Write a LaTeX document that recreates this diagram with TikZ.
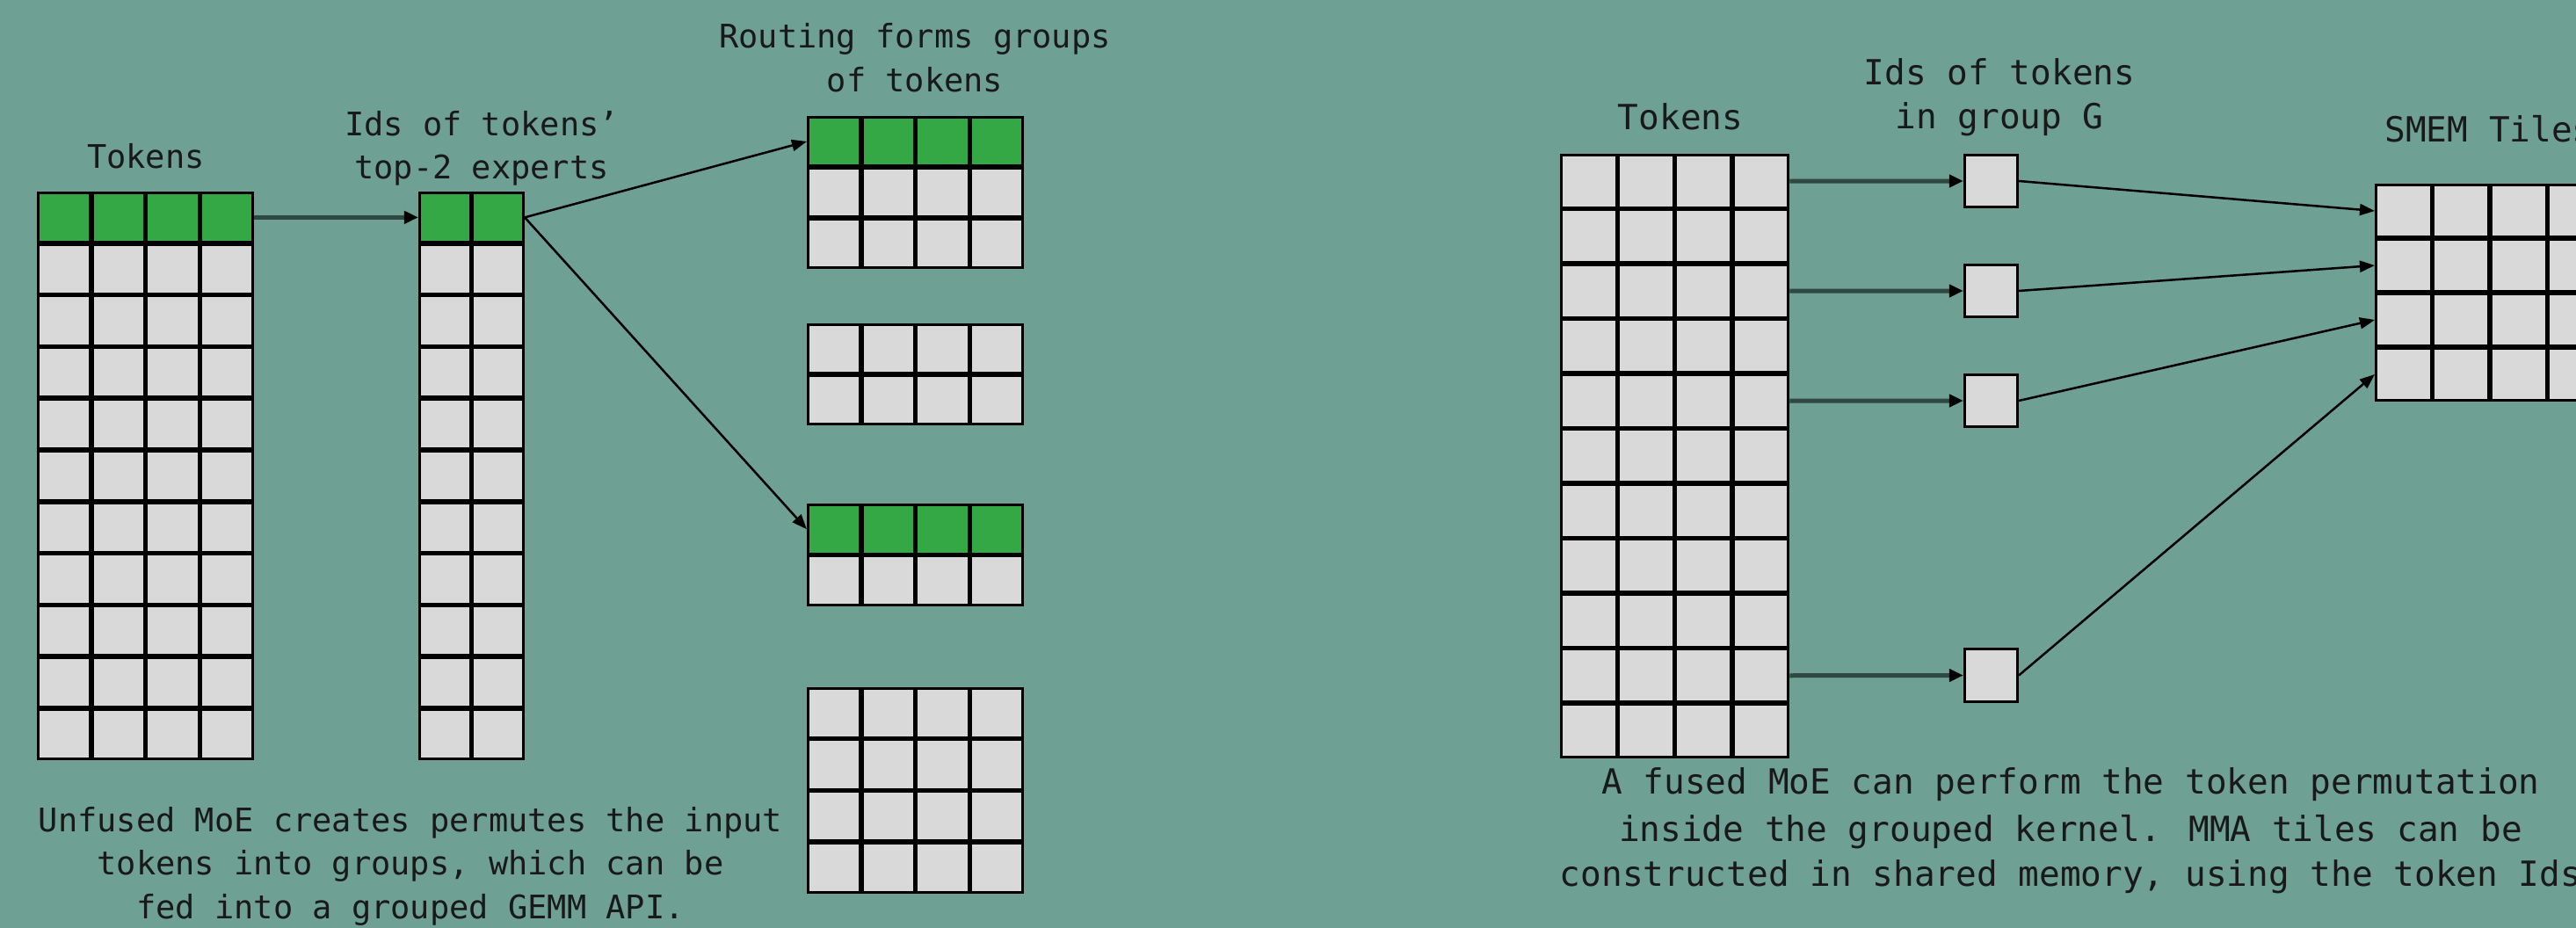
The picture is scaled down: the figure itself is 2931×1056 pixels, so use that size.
\documentclass[tikz,border=0pt]{standalone}
\usepackage{fontspec}
\newfontfamily\monoL{DejaVu Sans Mono}
\usetikzlibrary{arrows.meta}
\definecolor{bgc}{RGB}{111,160,148}
\definecolor{cgreen}{RGB}{51,168,69}
\definecolor{cgray}{RGB}{217,217,217}
\definecolor{ink}{RGB}{25,25,25}
\definecolor{harrowc}{RGB}{48,72,66}
% #1 name, #2 x0, #3 y0, #4 pitch w, #5 pitch h, #6 cols, #7 rows, #8 green rows
\newcommand\mkgrid[8]{%
  \foreach \c in {1,...,#6}{%
    \foreach \r in {1,...,#7}{%
      \pgfmathsetmacro\cx{#2+(\c-0.5)*#4}%
      \pgfmathsetmacro\cy{#3+(\r-0.5)*#5}%
      \ifnum\r>#8\relax\def\fc{cgray}\else\def\fc{cgreen}\fi
      \node[cellbox, fill=\fc, minimum width={(#4-2.7)*1pt}, minimum height={(#5-2.7)*1pt}] (#1-\c-\r) at (\cx,\cy) {};
    }%
  }%
}
\begin{document}
\begin{tikzpicture}[x=1pt,y=-1pt,
  cellbox/.style={draw=black, line width=2.8pt, inner sep=0pt},
  lblL/.style={font=\monoL\fontsize{37}{50}\selectfont, text=ink, anchor=base, inner sep=0pt},
  lblR/.style={font=\monoL\fontsize{39.4}{54}\selectfont, text=ink, anchor=base, inner sep=0pt},
  harrow/.style={draw=harrowc, line width=5pt, -{Triangle[length=16pt,width=14pt,color=black]}},
  darrow/.style={draw=black, line width=2.5pt, -{Triangle[length=17pt,width=13pt]}}]
\clip (0,0) rectangle (2931,1056);
\fill[bgc] (0,0) rectangle (2931,1056);
% ---------- left half ----------
\mkgrid{tl}{42}{218}{61.75}{58.8}{4}{11}{1}
\mkgrid{il}{476}{218}{60.5}{58.8}{2}{11}{1}
\mkgrid{ga}{918}{132}{61.75}{58}{4}{3}{1}
\mkgrid{gb}{918}{368}{61.75}{58}{4}{2}{0}
\mkgrid{gc}{918}{573}{61.75}{58.5}{4}{2}{1}
\mkgrid{gd}{918}{782}{61.75}{58.7}{4}{4}{0}
\node[lblL] (ltok) at (166,192) {Tokens};
\node[lblL] (lids1) at (548,155) {Ids of tokens’};
\node[lblL] (lids2) at (548,204) {top-2 experts};
\node[lblL] (lrout1) at (1041,55) {Routing forms groups};
\node[lblL] (lrout2) at (1041,105) {of tokens};
\node[lblL] (lcap1) at (467,946) {Unfused MoE creates permutes the input};
\node[lblL] (lcap2) at (467,995) {tokens into groups, which can be};
\node[lblL] (lcap3) at (467,1045) {fed into a grouped GEMM API.};
\draw[harrow] (tl-4-1.east) -- (il-1-1.west);
\draw[darrow] (il-2-1.east) -- (ga-1-1.west);
\draw[darrow] (il-2-1.east) -- (gc-1-1.west);
% ---------- right half ----------
\mkgrid{tr}{1775}{175}{65.3}{62.5}{4}{11}{0}
\mkgrid{ba}{2234}{175}{63}{62}{1}{1}{0}
\mkgrid{bb}{2234}{300}{63}{62}{1}{1}{0}
\mkgrid{bc}{2234}{425}{63}{62}{1}{1}{0}
\mkgrid{bd}{2234}{737.5}{63}{62}{1}{1}{0}
\mkgrid{sm}{2702}{209}{65.5}{62}{4}{4}{0}
\node[lblR] (rtok) at (1912,148) {Tokens};
\node[lblR] (rids1) at (2275,97) {Ids of tokens};
\node[lblR] (rids2) at (2275,147) {in group G};
\node[lblR] (rsmem) at (2832,162) {SMEM Tiles};
\node[lblR] (rcap1) at (2356,903) {A fused MoE can perform the token permutation};
\node[lblR] (rcap2) at (2356,957) {inside the grouped kernel. MMA tiles can be};
\node[lblR] (rcap3) at (2356,1008) {constructed in shared memory, using the token Ids};
\draw[harrow] (tr-4-1.east) -- (ba-1-1.west);
\draw[harrow] (tr-4-3.east) -- (bb-1-1.west);
\draw[harrow] (tr-4-5.east) -- (bc-1-1.west);
\draw[harrow] (tr-4-10.east) -- (bd-1-1.west);
\draw[darrow] (ba-1-1.east) -- (sm-1-1.west);
\draw[darrow] (bb-1-1.east) -- (sm-1-2.west);
\draw[darrow] (bc-1-1.east) -- (sm-1-3.west);
\draw[darrow] (bd-1-1.east) -- (sm-1-4.west);
\end{tikzpicture}
\end{document}
